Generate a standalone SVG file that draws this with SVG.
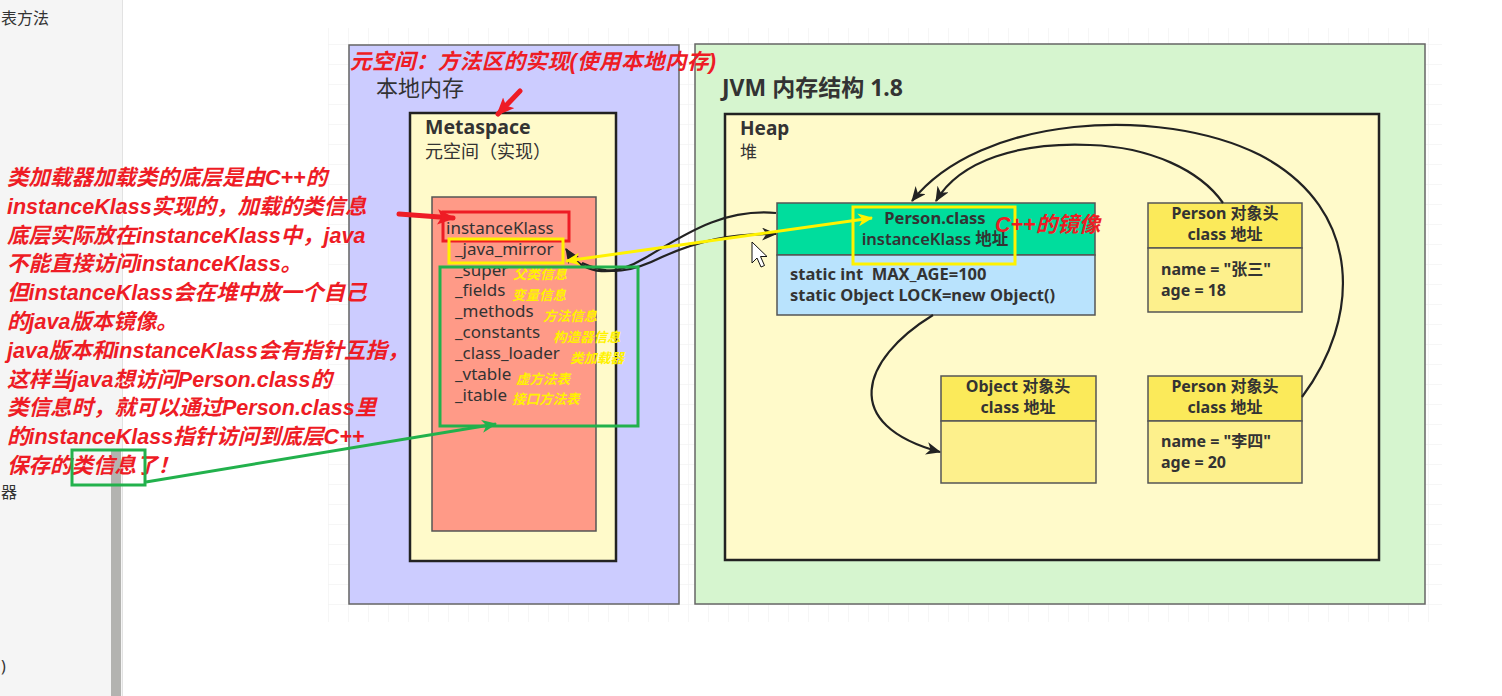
<svg xmlns="http://www.w3.org/2000/svg" width="1502" height="696" viewBox="0 0 1502 696">
<defs>
<style>
.ui{font-family:"Noto Sans","Noto Sans CJK SC",sans-serif;fill:#333}
.b{font-weight:bold}
.red{font-family:"Liberation Sans","Noto Sans CJK SC",sans-serif;font-style:italic;font-weight:bold;fill:#ee1c25;font-size:21.5px}
.yel{font-family:"Liberation Sans","Noto Sans CJK SC",sans-serif;font-style:italic;font-weight:bold;fill:#fff200;font-size:13.5px}
.box{stroke:#555;stroke-width:1.5}
.conn{fill:none;stroke:#222;stroke-width:2.2}
</style>
<pattern id="grid" width="20" height="20" patternUnits="userSpaceOnUse" x="8" y="4">
<path d="M20,0 L0,0 0,20" fill="none" stroke="#eeeeee" stroke-width="1"/>
</pattern>
<marker id="ab" viewBox="0 0 14 12" refX="13" refY="6" markerWidth="15" markerHeight="13" markerUnits="userSpaceOnUse" orient="auto"><path d="M0,0 L14,6 L0,12 L4,6 z" fill="#222"/></marker>
<marker id="ay" viewBox="0 0 14 12" refX="13" refY="6" markerWidth="15" markerHeight="13" markerUnits="userSpaceOnUse" orient="auto-start-reverse"><path d="M0,0 L14,6 L0,12 L4,6 z" fill="#fff200"/></marker>
<marker id="ar" viewBox="0 0 14 12" refX="12" refY="6" markerWidth="18" markerHeight="16" markerUnits="userSpaceOnUse" orient="auto"><path d="M0,0 L14,6 L0,12 L3,6 z" fill="#ee1c25"/></marker>
<marker id="ag" viewBox="0 0 14 12" refX="13" refY="6" markerWidth="16" markerHeight="13" markerUnits="userSpaceOnUse" orient="auto"><path d="M0,0 L14,6 L0,12 L4,6 z" fill="#22b14c"/></marker>
</defs>

<!-- background / app chrome -->
<rect x="0" y="0" width="1502" height="696" fill="#ffffff"/>
<rect x="0" y="0" width="122" height="696" fill="#f5f5f5"/>
<line x1="122.5" y1="0" x2="122.5" y2="696" stroke="#e2e2e2"/>
<rect x="111" y="450" width="10" height="246" fill="#b3b3b0"/>
<text class="ui" x="1" y="24" font-size="16" fill="#444">表方法</text>
<text class="ui" x="1" y="498" font-size="16" fill="#444">器</text>
<text class="ui" x="1" y="672" font-size="16" fill="#444">)</text>
<rect x="328" y="28" width="1114" height="594" fill="url(#grid)"/>

<!-- containers -->
<g id="native-memory">
<rect x="349" y="45" width="330" height="559" fill="#ccccff" stroke="#666" stroke-width="1.5"/>
<text class="ui" x="376" y="96" font-size="22">本地内存</text>
</g>
<g id="jvm">
<rect x="695" y="44" width="730" height="560" fill="#d6f5cf" stroke="#666" stroke-width="1.5"/>
<text class="ui b" x="722" y="96" font-size="23">JVM 内存结构 1.8</text>
</g>
<g id="metaspace">
<rect x="410" y="113" width="206" height="448" fill="#fffaca" stroke="#222" stroke-width="2.5"/>
<text class="ui b" x="425" y="134" font-size="19.5">Metaspace</text>
<text class="ui" x="425" y="158" font-size="18">元空间（实现）</text>
</g>
<g id="heap">
<rect x="725" y="114" width="654" height="446" fill="#fffaca" stroke="#222" stroke-width="2.5"/>
<text class="ui b" x="740" y="135" font-size="19">Heap</text>
<text class="ui" x="740" y="158" font-size="17">堆</text>
</g>

<g id="instanceKlass">
<rect x="432" y="197" width="164" height="334" fill="#ff9a87" stroke="#555" stroke-width="1.5"/>
<text class="ui" x="446" y="234" font-size="17">instanceKlass</text>
<text class="ui" x="455" y="255" font-size="17">_java_mirror</text>
<text class="ui" x="455" y="276" font-size="17">_super</text>
<text class="ui" x="455" y="296" font-size="17">_fields</text>
<text class="ui" x="455" y="317" font-size="17">_methods</text>
<text class="ui" x="455" y="338" font-size="17">_constants</text>
<text class="ui" x="455" y="359" font-size="17">_class_loader</text>
<text class="ui" x="455" y="380" font-size="17">_vtable</text>
<text class="ui" x="455" y="401" font-size="17">_itable</text>
<text class="yel" x="513" y="279">父类信息</text>
<text class="yel" x="512" y="300">变量信息</text>
<text class="yel" x="543" y="321">方法信息</text>
<text class="yel" x="553" y="342">构造器信息</text>
<text class="yel" x="570" y="363">类加载器</text>
<text class="yel" x="516" y="384">虚方法表</text>
<text class="yel" x="512" y="404">接口方法表</text>
</g>

<g id="person-class">
<rect x="777" y="203" width="318" height="52" fill="#00dd9d" class="box"/>
<rect x="777" y="255" width="318" height="60" fill="#b9e3fd" class="box"/>
<text class="ui b" x="935" y="224" font-size="16.5" text-anchor="middle">Person.class</text>
<text class="ui" x="935" y="245" font-size="16.5" text-anchor="middle" font-weight="600">instanceKlass 地址</text>
<text class="ui b" x="790" y="280" font-size="16.5" xml:space="preserve">static int  MAX_AGE=100</text>
<text class="ui b" x="790" y="301" font-size="16.5">static Object LOCK=new Object()</text>
</g>

<g id="person-zhangsan">
<rect x="1148" y="203" width="154" height="45" fill="#fbea5a" class="box"/>
<rect x="1148" y="248" width="154" height="64" fill="#fdf08c" class="box"/>
<text class="ui b" x="1225" y="219" font-size="16" text-anchor="middle">Person 对象头</text>
<text class="ui b" x="1225" y="240" font-size="16" text-anchor="middle">class 地址</text>
<text class="ui b" x="1161" y="275" font-size="16">name = "张三"</text>
<text class="ui b" x="1161" y="296" font-size="16">age = 18</text>
</g>

<g id="object-obj">
<rect x="941" y="376" width="155" height="45" fill="#fbea5a" class="box"/>
<rect x="941" y="421" width="155" height="62" fill="#fdf08c" class="box"/>
<text class="ui b" x="1018" y="392" font-size="16" text-anchor="middle">Object 对象头</text>
<text class="ui b" x="1018" y="413" font-size="16" text-anchor="middle">class 地址</text>
</g>

<g id="person-lisi">
<rect x="1148" y="376" width="154" height="45" fill="#fbea5a" class="box"/>
<rect x="1148" y="421" width="154" height="62" fill="#fdf08c" class="box"/>
<text class="ui b" x="1225" y="392" font-size="16" text-anchor="middle">Person 对象头</text>
<text class="ui b" x="1225" y="413" font-size="16" text-anchor="middle">class 地址</text>
<text class="ui b" x="1161" y="447" font-size="16">name = "李四"</text>
<text class="ui b" x="1161" y="468" font-size="16">age = 20</text>
</g>

<g id="connectors">
<path class="conn" d="M776,213 C720,208 680,238 645,258 C615,276 585,278 566,249" marker-end="url(#ab)"/>
<path class="conn" d="M582,263 C610,276 632,272 662,257 C700,240 730,234 776,234" marker-end="url(#ab)"/>
<path class="conn" d="M933,315 C860,360 840,425 940,452" marker-end="url(#ab)"/>
<path class="conn" d="M1223,203 C1200,170 1150,147 1090,145 C1020,142 960,160 936,201" marker-end="url(#ab)"/>
<path class="conn" d="M1302,397 C1360,320 1365,210 1260,155 C1160,105 980,115 912,201" marker-end="url(#ab)"/>
</g>

<g id="annotations">
<text class="red" x="350" y="69" font-size="20" textLength="366" lengthAdjust="spacing">元空间：方法区的实现(使用本地内存)</text>
<line x1="520" y1="91" x2="498" y2="114" stroke="#ee1c25" stroke-width="5" stroke-linecap="round" marker-end="url(#ar)"/>
<line x1="399" y1="214" x2="453" y2="218" stroke="#ee1c25" stroke-width="5" stroke-linecap="round" marker-end="url(#ar)"/>
<rect x="443" y="212" width="126" height="29" fill="none" stroke="#ee1c25" stroke-width="3"/>
<rect x="449" y="239" width="114" height="24" fill="none" stroke="#fff200" stroke-width="3"/>
<rect x="440" y="267" width="198" height="159" fill="none" stroke="#22b14c" stroke-width="3"/>
<rect x="853" y="207" width="162" height="57" fill="none" stroke="#fff200" stroke-width="3"/>
<line x1="566" y1="261" x2="872" y2="218" stroke="#fff200" stroke-width="3" marker-start="url(#ay)" marker-end="url(#ay)"/>
<text class="red" x="995" y="232" font-size="16">C++的镜像</text>
<text class="red" x="7" y="185">类加载器加载类的底层是由C++的</text>
<text class="red" x="7" y="214">instanceKlass实现的，加载的类信息</text>
<text class="red" x="7" y="243">底层实际放在instanceKlass中，java</text>
<text class="red" x="7" y="271">不能直接访问instanceKlass。</text>
<text class="red" x="7" y="300">但instanceKlass会在堆中放一个自己</text>
<text class="red" x="7" y="329">的java版本镜像。</text>
<text class="red" x="7" y="358">java版本和instanceKlass会有指针互指，</text>
<text class="red" x="7" y="387">这样当java想访问Person.class的</text>
<text class="red" x="7" y="415">类信息时，就可以通过Person.class里</text>
<text class="red" x="7" y="444">的instanceKlass指针访问到底层C++</text>
<text class="red" x="7" y="473">保存的类信息了！</text>
<rect x="72" y="450" width="73" height="35" fill="none" stroke="#22b14c" stroke-width="3"/>
<line x1="146" y1="482" x2="496" y2="424" stroke="#22b14c" stroke-width="3" marker-end="url(#ag)"/>
<path d="M752,242 L752,263 L757,258 L761,267 L764.5,265.5 L760.5,256.5 L767,256.5 Z" fill="#fff" stroke="#111" stroke-width="1"/>
</g>
</svg>
